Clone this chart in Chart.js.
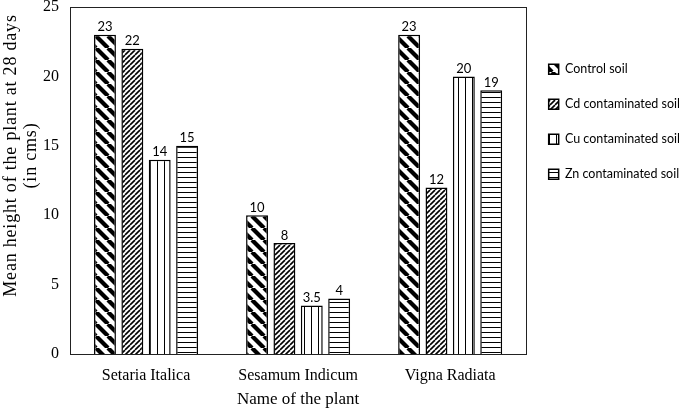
<!DOCTYPE html>
<html>
<head>
<meta charset="utf-8">
<script src="https://cdn.jsdelivr.net/npm/chart.js@4"></script>
<style>
  html, body { margin: 0; padding: 0; background: #fff; }
  #wrap { width: 685px; height: 412px; }
</style>
</head>
<body>
<div id="wrap"><canvas id="heightChart"></canvas></div>
<script>
const plants = ["Setaria Italica", "Sesamum Indicum", "Vigna Radiata"];
const controlSoil = [23, 10, 23];
const cdSoil = [22, 8, 12];
const cuSoil = [14, 3.5, 20];
const znSoil = [15, 4, 19];
const yTicks = [0, 5, 10, 15, 20, 25];

function makePattern(size, draw) {
  const c = document.createElement("canvas");
  c.width = size;
  c.height = size;
  const g = c.getContext("2d");
  g.fillStyle = "#fff";
  g.fillRect(0, 0, size, size);
  g.strokeStyle = "#000";
  draw(g, size);
  return g.createPattern(c, "repeat");
}

const ctx = document.getElementById("heightChart").getContext("2d");

// wide "\" stripes
const controlFill = makePattern(12, (g, s) => {
  g.lineWidth = 4.2;
  for (let k = -1; k <= 1; k++) {
    g.beginPath();
    g.moveTo(k * s, 0);
    g.lineTo(k * s + s, s);
    g.stroke();
  }
});
// dense "/" stripes
const cdFill = makePattern(5, (g, s) => {
  g.lineWidth = 1.6;
  for (let k = -1; k <= 1; k++) {
    g.beginPath();
    g.moveTo(k * s, s);
    g.lineTo(k * s + s, 0);
    g.stroke();
  }
});
// vertical lines
const cuFill = makePattern(7, (g, s) => {
  g.lineWidth = 1;
  g.beginPath();
  g.moveTo(3.5, 0);
  g.lineTo(3.5, s);
  g.stroke();
});
// horizontal lines
const znFill = makePattern(5, (g, s) => {
  g.lineWidth = 1;
  g.beginPath();
  g.moveTo(0, 2.5);
  g.lineTo(s, 2.5);
  g.stroke();
});

const boxPlugin = {
  id: "plotBox",
  afterDraw(chart) {
    const a = chart.chartArea;
    const c = chart.ctx;
    c.save();
    c.strokeStyle = "#222";
    c.lineWidth = 1;
    c.strokeRect(Math.round(a.left) + 0.5, Math.round(a.top) + 0.5, Math.round(a.right - a.left), Math.round(a.bottom - a.top));
    c.restore();
  }
};

const valueLabels = {
  id: "valueLabels",
  afterDatasetsDraw(chart) {
    const c = chart.ctx;
    c.save();
    c.fillStyle = "#000";
    c.font = "13px Lato";
    c.textAlign = "center";
    c.textBaseline = "bottom";
    chart.data.datasets.forEach((ds, i) => {
      chart.getDatasetMeta(i).data.forEach((bar, j) => {
        c.fillText(String(ds.data[j]), bar.x, bar.y - 1);
      });
    });
    c.restore();
  }
};

// the y title in the original is set loose and sits above the middle
const spacedTitle = {
  id: "spacedTitle",
  afterLayout(chart) {
    const y = chart.scales.y;
    if (y._spaced) return;
    const orig = y.drawTitle.bind(y);
    y.drawTitle = function () {
      chart.ctx.save();
      chart.ctx.letterSpacing = "0.8px";
      chart.ctx.translate(0, -25);
      orig();
      chart.ctx.restore();
    };
    y._spaced = true;
  }
};

const serif = "'Liberation Serif', 'Times New Roman', serif";

new Chart(ctx, {
  type: "bar",
  data: {
    labels: plants,
    datasets: [
      { label: "Control soil", data: controlSoil, backgroundColor: controlFill },
      { label: "Cd contaminated soil", data: cdSoil, backgroundColor: cdFill },
      { label: "Cu contaminated soil", data: cuSoil, backgroundColor: cuFill },
      { label: "Zn contaminated soil", data: znSoil, backgroundColor: znFill }
    ].map(d => Object.assign(d, { borderColor: "#000", borderWidth: 1.5, categoryPercentage: 0.72, barPercentage: 0.8 }))
  },
  options: {
    responsive: true,
    maintainAspectRatio: false,
    animation: false,
    layout: { padding: { top: 7, right: -5, left: 0, bottom: 0 } },
    plugins: {
      tooltip: { enabled: false },
      legend: {
        position: "right",
        align: "start",
        title: { display: true, text: " ", padding: { top: 19, bottom: 0 }, font: { size: 12 } },
        labels: {
          color: "#000",
          font: { family: "Lato", size: 12.5 },
          boxWidth: 10,
          boxHeight: 10,
          padding: 22.5
        }
      }
    },
    scales: {
      x: {
        grid: { display: false, drawTicks: false },
        border: { display: false },
        ticks: { color: "#000", font: { family: serif, size: 16 }, padding: 12 },
        title: { display: true, text: "Name of the plant", color: "#000", font: { family: serif, size: 17 }, padding: { top: 4, bottom: 2 } },
        afterFit(axis) { axis.height = 58; axis.paddingLeft = 0; axis.paddingRight = 0; }
      },
      y: {
        min: 0,
        max: 25,
        afterBuildTicks(axis) { axis.ticks = yTicks.map(v => ({ value: v })); },
        grid: { display: false, drawTicks: false },
        border: { display: false },
        ticks: { color: "#000", font: { family: serif, size: 16 }, padding: 11 },
        title: { display: true, text: ["Mean height of the plant at 28 days", "(in cms)"], color: "#000", font: { family: serif, size: 18, lineHeight: 1.12 }, padding: { top: 1, bottom: 0 } },
        afterFit(axis) { axis.width = 70; axis.paddingTop = 0; axis.paddingBottom = 0; }
      }
    }
  },
  plugins: [boxPlugin, valueLabels, spacedTitle]
});
</script>
</body>
</html>
